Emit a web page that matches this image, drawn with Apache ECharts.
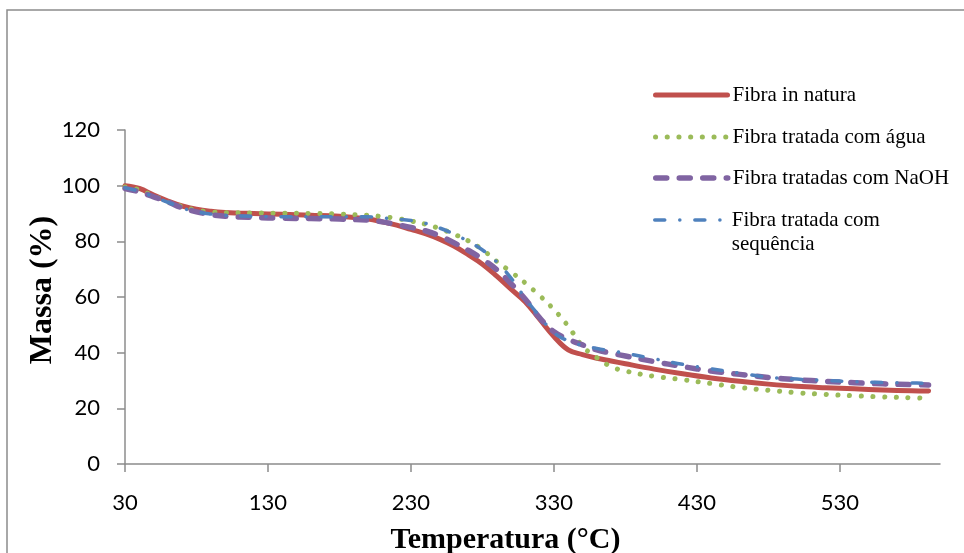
<!DOCTYPE html>
<html><head><meta charset="utf-8">
<script src="https://cdn.jsdelivr.net/npm/echarts@6/dist/echarts.min.js"></script>
<style>html,body{margin:0;padding:0;background:#fff}#c{width:964px;height:553px}</style>
</head><body><div id="c"></div>
<script>
const temperatures = [30,40,50,60,70,80,90,100,120,140,160,180,200,210,220,230,240,250,260,270,280,290,300,310,320,330,340,350,360,370,380,400,420,440,460,480,500,520,540,560,580,592];
const fibraInNatura = [100,99.0,96.6,94.5,92.7,91.5,90.8,90.4,90.0,89.7,89.4,89.0,88.0,87.0,85.8,84.3,82.8,80.8,78.3,75.2,71.8,67.5,62.8,58.2,52.0,45.8,41.0,39.3,38.0,37.0,36.0,34.1,32.4,30.9,29.7,28.7,27.9,27.4,27.0,26.6,26.3,26.2];
const fibraAgua = [99.5,98.5,96.3,94.2,92.5,91.2,90.6,90.3,90.2,90.1,90.0,89.8,89.3,88.9,88.2,87.3,86.2,84.6,82.6,80.2,77.0,72.8,69.0,65.0,60.5,55.5,49.5,42.3,38.2,35.0,33.4,31.5,30.3,28.9,27.5,26.5,25.6,25.0,24.5,24.1,23.8,23.6];
const fibraNaOH = [99.0,97.8,96.0,94.2,92.0,90.6,89.6,89.0,88.6,88.3,88.2,88.0,87.6,87.0,86.0,85.0,83.8,82.0,79.5,76.8,73.6,69.8,64.8,59.2,52.5,47.5,44.8,42.8,41.0,39.8,38.8,36.8,35.0,33.4,32.2,31.1,30.3,29.7,29.2,28.8,28.5,28.4];
const fibraSequencia = [99.2,98.0,96.0,94.0,92.0,90.6,89.8,89.3,89.0,88.8,88.8,88.8,88.8,88.4,88.0,87.5,86.5,84.8,82.6,80.0,76.9,72.6,66.8,59.5,53.0,47.2,44.2,42.6,41.5,40.6,39.8,37.8,35.8,34.2,32.6,31.2,30.5,30.0,29.6,29.3,29.1,29.0];
const seriesNames = ['Fibra in natura','Fibra tratada com água','Fibra tratadas com NaOH','Fibra tratada com sequência'];
const xTickLabels = [30,130,230,330,430,530];
const yTickLabels = [0,20,40,60,80,100,120];
const xAxisTitle = 'Temperatura (°C)';
const yAxisTitle = 'Massa (%)';

const colors = ['#C0504D','#9BBB59','#8064A2','#4F81BD'];
const lineStyles = [
  {width:5, type:'solid', cap:'round'},
  {width:5, type:[0.1,11.6], cap:'round'},
  {width:5.5, type:[11,12.5], cap:'round'},
  {width:3.5, type:[10,15,0.1,15], cap:'round'}
];
const allValues = [fibraInNatura, fibraAgua, fibraNaOH, fibraSequencia];

const series = seriesNames.map((name,i)=>({
  name, type:'line', smooth:0.4, symbol:'none', showSymbol:false,
  data: temperatures.map((t,j)=>[t, allValues[i][j]]),
  lineStyle: Object.assign({color: colors[i], join:'round'}, lineStyles[i]),
  itemStyle: {color: colors[i]},
  z: 2+i, animation:false
}));

const legendTops = [83,125,166,184];
const legends = seriesNames.map((name,i)=>({
  data:[name], orient:'vertical', left:653, top:legendTops[i], padding:0,
  itemWidth:72, itemHeight:24, itemGap:0,
  itemStyle:{opacity:0},
  lineStyle: Object.assign({}, lineStyles[i]),
  formatter: i===3 ? ()=> ' \nFibra tratada com\nsequência' : undefined,
  textStyle: {fontFamily:'Liberation Serif', fontSize:21, color:'#000', lineHeight:24},
  selectedMode:false
}));

const chart = echarts.init(document.getElementById('c'));
chart.setOption({
  animation:false,
  backgroundColor:'#fff',
  graphic:[{type:'rect', shape:{x:7,y:10,width:1000,height:600}, style:{fill:'none', stroke:'#8c8c8c', lineWidth:1.5}, z:-1, silent:true}],
  grid:{left:125, right:24, top:130, bottom:89, containLabel:false, outerBoundsMode:'none'},
  legend: legends,
  xAxis:{
    type:'value', min:30, max:600,
    name: xAxisTitle, nameLocation:'middle', nameGap:61,
    nameTextStyle:{fontFamily:'Liberation Serif', fontWeight:'bold', fontSize:30, color:'#000', padding:[0,54,0,0]},
    axisLine:{show:true, lineStyle:{color:'#8c8c8c', width:1.5}},
    axisTick:{show:true, length:8, customValues:xTickLabels, lineStyle:{color:'#8c8c8c', width:1.5}},
    axisLabel:{customValues:xTickLabels, margin:28, fontFamily:'Lato', fontSize:22, color:'#000'},
    splitLine:{show:false}
  },
  yAxis:{
    type:'value', min:0, max:120, interval:20,
    name: yAxisTitle, nameLocation:'middle', nameGap:66, nameMoveOverlap:false,
    nameTextStyle:{fontFamily:'Liberation Serif', fontWeight:'bold', fontSize:32, color:'#000', padding:[0,0,0,14]},
    axisLine:{show:true, lineStyle:{color:'#8c8c8c', width:1.5}},
    axisTick:{show:true, length:8, lineStyle:{color:'#8c8c8c', width:1.5}},
    axisLabel:{margin:25, fontFamily:'Lato', fontSize:22, color:'#000', formatter:v=> yTickLabels.includes(v)? String(v):''},
    splitLine:{show:false}
  },
  series
});
</script></body></html>
